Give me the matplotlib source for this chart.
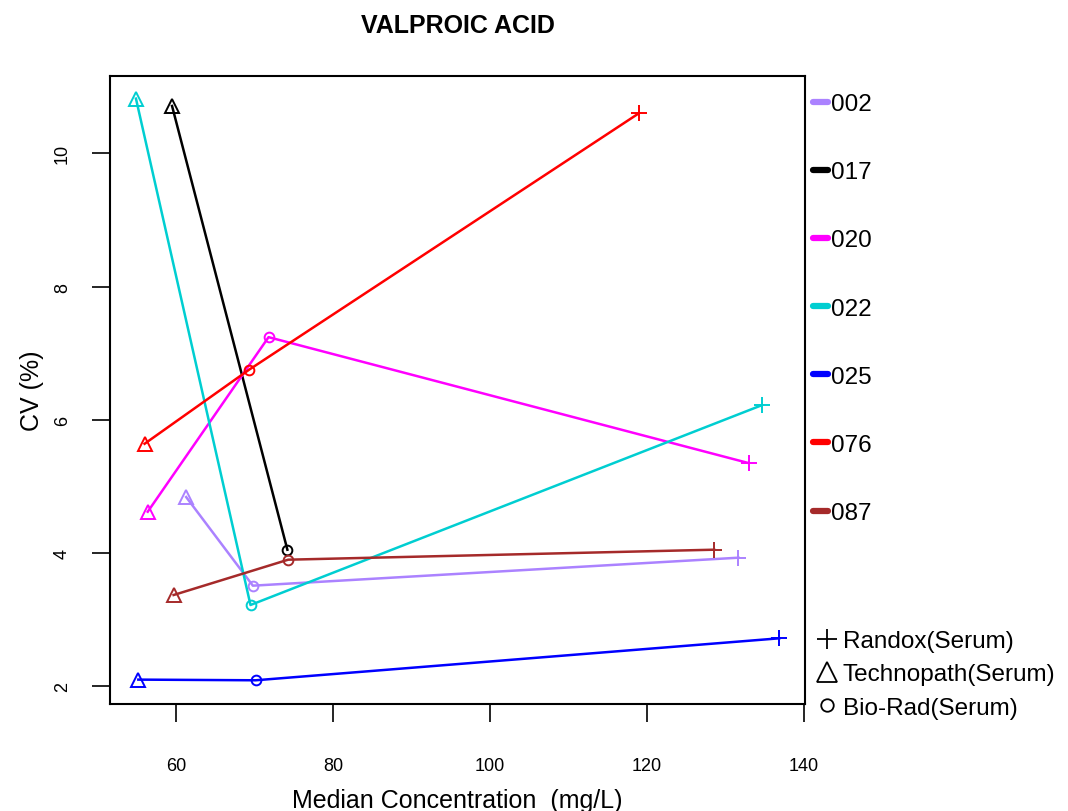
import matplotlib
matplotlib.use("Agg")
import matplotlib.pyplot as plt
from matplotlib.lines import Line2D

plt.rcParams['font.family'] = ['Liberation Sans', 'DejaVu Sans']

# ==========================================
# Data (Technopath, Bio-Rad, Randox)
# ==========================================

labs = ["002", "017", "020", "022", "025", "076", "087"]

lab_colors = ["#AB82FF", "#000000", "#FF00FF", "#00CED1",
              "#0000FF", "#FF0000", "#A52A2A"]

technopath_x = [61.3, 59.5, 56.4, 54.9, 55.2, 56.0, 59.7]
technopath_cv = [4.84, 10.71, 4.62, 10.82, 2.10, 5.64, 3.37]

biorad_x = [69.8, 74.2, 71.8, 69.5, 70.15, 69.3, 74.3]
biorad_cv = [3.51, 4.05, 7.24, 3.22, 2.09, 6.75, 3.90]

randox_x = [131.7, None, 133.0, 134.7, 136.9, 119.0, 128.6]
randox_cv = [3.93, None, 5.35, 6.22, 2.72, 10.60, 4.05]

methods = ["Randox(Serum)", "Technopath(Serum)", "Bio-Rad(Serum)"]

# ==========================================
# Figure
# ==========================================

fig = plt.figure(figsize=(10.68, 8.12), dpi=100)
ax = fig.add_axes([110 / 1068, 1 - 705 / 812, 695 / 1068, 628 / 812])

for i, lab in enumerate(labs):

    c = lab_colors[i]

    xs = [technopath_x[i], biorad_x[i]]
    ys = [technopath_cv[i], biorad_cv[i]]
    if randox_x[i] is not None:
        xs.append(randox_x[i])
        ys.append(randox_cv[i])

    ax.plot(xs, ys, '-', color=c, linewidth=1.8, zorder=2)

    ax.plot(technopath_x[i], technopath_cv[i], '^', color=c,
            markerfacecolor='none', markersize=10.5,
            markeredgewidth=1.4, zorder=3)

    ax.plot(biorad_x[i], biorad_cv[i], 'o', color=c,
            markerfacecolor='none', markersize=7,
            markeredgewidth=1.4, zorder=3)

    if randox_x[i] is not None:
        ax.plot(randox_x[i], randox_cv[i], '+', color=c,
                markersize=11, markeredgewidth=1.4, zorder=3)

ax.set_xlim(51.59, 140.18)
ax.set_ylim(1.734, 11.16)

ax.set_xticks([60, 80, 100, 120, 140])
ax.set_yticks([2, 4, 6, 8, 10])

ax.tick_params(axis='both', length=13, width=1.2, labelsize=13)
ax.tick_params(axis='x', pad=25)
ax.tick_params(axis='y', pad=15)

for lbl in ax.get_yticklabels():
    lbl.set_rotation(90)
    lbl.set_va('center')

for s in ax.spines.values():
    s.set_linewidth(1.5)

ax.set_title("VALPROIC ACID", fontsize=18, fontweight='bold', pad=32)
ax.set_xlabel("Median Concentration  (mg/L)", fontsize=18, labelpad=10)
ax.set_ylabel("CV (%)", fontsize=18, labelpad=7)

# ==========================================
# Legends
# ==========================================

lab_handles = [Line2D([], [], color=c, linewidth=4.5, solid_capstyle='round')
               for c in lab_colors]

leg1 = fig.legend(lab_handles, labs,
                  loc='upper left',
                  bbox_to_anchor=(813 / 1068, 1 - 94 / 812),
                  frameon=False, fontsize=17.5,
                  handlelength=0.6, handletextpad=0.15,
                  labelspacing=1.9, borderpad=0, borderaxespad=0)

method_handles = [
    Line2D([], [], linestyle='none', marker='+', color='black',
           markersize=14, markeredgewidth=1.3),
    Line2D([], [], linestyle='none', marker='^', color='black',
           markerfacecolor='none', markersize=14, markeredgewidth=1.3),
    Line2D([], [], linestyle='none', marker='o', color='black',
           markerfacecolor='none', markersize=9, markeredgewidth=1.3),
]

leg2 = fig.legend(method_handles, methods,
                  loc='upper left',
                  bbox_to_anchor=(816 / 1068, 1 - 631 / 812),
                  frameon=False, fontsize=17.5,
                  handlelength=0.9, handletextpad=0.2,
                  labelspacing=0.47, borderpad=0, borderaxespad=0)

fig.savefig("out.png", dpi=100)
